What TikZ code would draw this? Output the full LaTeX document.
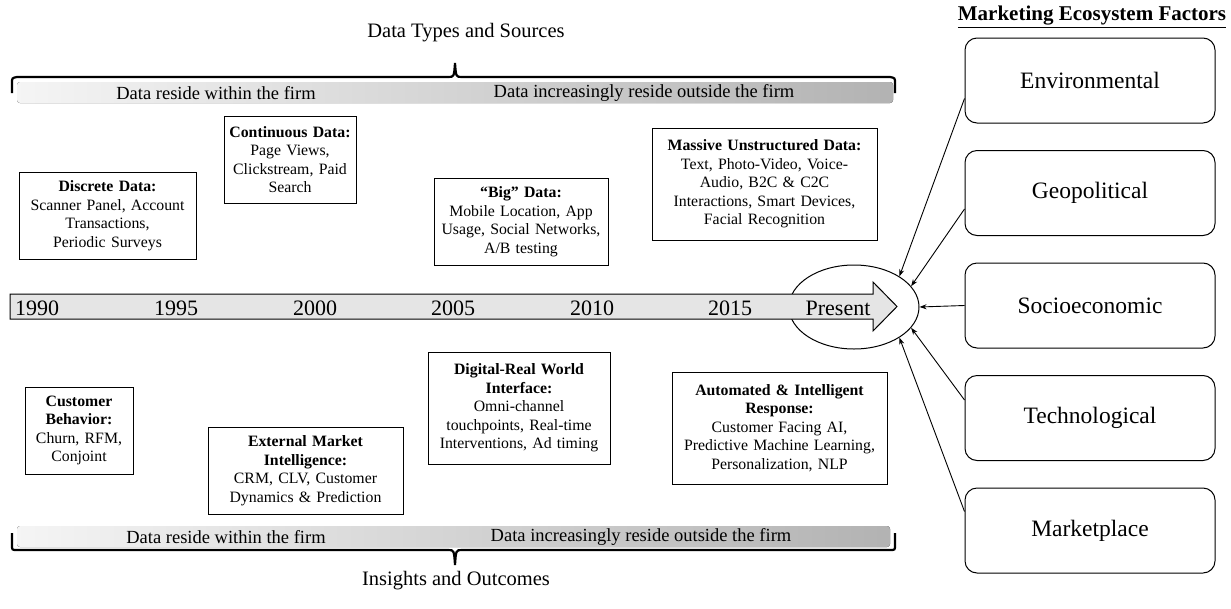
\documentclass[tikz,border=0pt]{standalone}
\usepackage{fontspec}
\setmainfont{Liberation Serif}
\usetikzlibrary{shapes.geometric,arrows.meta}
\begin{document}
\begin{tikzpicture}[x=1pt,y=-1pt,
  txtbox/.style={draw, line width=0.7pt, align=center, inner xsep=2pt, inner ysep=0pt, font=\fontsize{15.8}{18.5}\selectfont},
  factor/.style={draw, line width=1pt, rounded corners=12pt, minimum width=250pt, minimum height=85pt, font=\fontsize{23.5}{27}\selectfont},
  yearlbl/.style={anchor=base, font=\fontsize{22}{26}\selectfont, inner sep=0pt},
  bartext/.style={font=\fontsize{18.5}{22}\selectfont, inner sep=0pt},
  titletext/.style={font=\fontsize{20.5}{24}\selectfont, inner sep=0pt},
  bracepath/.style={line width=2.2pt},
  bargray/.style={left color=black!4, right color=black!30, draw=none, rounded corners=3pt},
  infl/.style={line width=0.9pt, -{Stealth[length=7pt,width=5pt]}}
]
\useasboundingbox (0,0) rectangle (1231,608);

% ---- top: data types and sources
\node[titletext] (ttop) at (466,33) {Data Types and Sources};
\fill[bargray] (17,82) rectangle (893,103);
\draw[bracepath] (12,93) -- (12,83) .. controls (12,78) .. (17,77) -- (448,77)
  .. controls (454,77) .. (455,63) .. controls (456,77) .. (462,77) -- (890,77)
  .. controls (895,78) .. (895,83) -- (895,93);
\node[bartext] (tin) at (216,93) {Data reside within the firm};
\node[bartext] (tout) at (644,93) {Data increasingly reside outside the firm};

% ---- bottom: insights and outcomes
\fill[bargray] (17,526) rectangle (890,547);
\draw[bracepath] (12,533) -- (12,545) .. controls (12,550) .. (17,550) -- (448,550)
  .. controls (454,550) .. (455,565) .. controls (456,550) .. (462,550) -- (890,550)
  .. controls (895,550) .. (895,545) -- (895,533);
\node[bartext] (bin) at (226,537) {Data reside within the firm};
\node[bartext] (bout) at (641,537) {Data increasingly reside outside the firm};
\node[titletext] (tbot) at (456,581) {Insights and Outcomes};

% ---- timeline
\node[draw, ellipse, line width=1pt, minimum width=130pt, minimum height=84pt, inner sep=0pt] (ell) at (854,307) {};
\filldraw[fill=black!10, line width=1pt] (10,294) -- (873,294) -- (873,282) -- (897,306.5)
  -- (873,331) -- (873,319) -- (10,319) -- cycle;
\node[yearlbl] (y90) at (37,315) {1990};
\node[yearlbl] (y95) at (176,315) {1995};
\node[yearlbl] (y00) at (315,315) {2000};
\node[yearlbl] (y05) at (453,315) {2005};
\node[yearlbl] (y10) at (592,315) {2010};
\node[yearlbl] (y15) at (730,315) {2015};
\node[yearlbl] (ypr) at (838,315) {Present};

% ---- data boxes (top)
\node[txtbox, minimum width=177pt, minimum height=87pt, text width=173pt] (disc) at (107.5,215.5)
  {\textbf{Discrete Data:}\\Scanner Panel, Account\\Transactions,\\Periodic Surveys};
\node[txtbox, minimum width=132pt, minimum height=87pt, text width=128pt] (cont) at (290,159.5)
  {\textbf{Continuous Data:}\\Page Views,\\Clickstream, Paid\\Search};
\node[txtbox, minimum width=174pt, minimum height=87pt, text width=170pt] (big) at (521,221.5)
  {\textbf{“Big” Data:}\\Mobile Location, App\\Usage, Social Networks,\\A/B testing};
\node[txtbox, minimum width=225pt, minimum height=112pt, text width=221pt] (mass) at (764.5,184)
  {\textbf{Massive Unstructured Data:}\\Text, Photo-Video, Voice-\\Audio, B2C \& C2C\\Interactions, Smart Devices,\\Facial Recognition};

% ---- insight boxes (bottom)
\node[txtbox, minimum width=108pt, minimum height=87pt, text width=104pt] (cust) at (79,430.5)
  {\textbf{Customer}\\\textbf{Behavior:}\\Churn, RFM,\\Conjoint};
\node[txtbox, minimum width=195pt, minimum height=87pt, text width=191pt] (ext) at (305.5,470.5)
  {\textbf{External Market}\\\textbf{Intelligence:}\\CRM, CLV, Customer\\Dynamics \& Prediction};
\node[txtbox, minimum width=182pt, minimum height=112pt, text width=178pt] (dig) at (519,408)
  {\textbf{Digital-Real World}\\\textbf{Interface:}\\Omni-channel\\touchpoints, Real-time\\Interventions, Ad timing};
\node[txtbox, minimum width=215pt, minimum height=112pt, text width=211pt] (auto) at (779.5,428)
  {\textbf{Automated \& Intelligent}\\\textbf{Response:}\\Customer Facing AI,\\Predictive Machine Learning,\\Personalization, NLP};

% ---- marketing ecosystem factors
\node[inner sep=0pt, font=\fontsize{21}{25}\selectfont\bfseries] (mef) at (1092,17) {\underline{Marketing Ecosystem Factors}};
\node[factor] (env) at (1090,80.5) {Environmental};
\node[factor] (geo) at (1090,193) {Geopolitical};
\node[factor] (soc) at (1090,305.5) {Socioeconomic};
\node[factor] (tec) at (1090,418) {Technological};
\node[factor] (mkt) at (1090,530.5) {Marketplace};

\draw[infl] ([yshift=25pt]env.south west) -- (ell.34);
\draw[infl] ([yshift=27pt]geo.south west) -- (ell.20);
\draw[infl] (soc.west) -- (ell.east);
\draw[infl] ([yshift=-25pt]tec.north west) -- (ell.-20);
\draw[infl] ([yshift=-24pt]mkt.north west) -- (ell.-34);
\end{tikzpicture}
\end{document}
